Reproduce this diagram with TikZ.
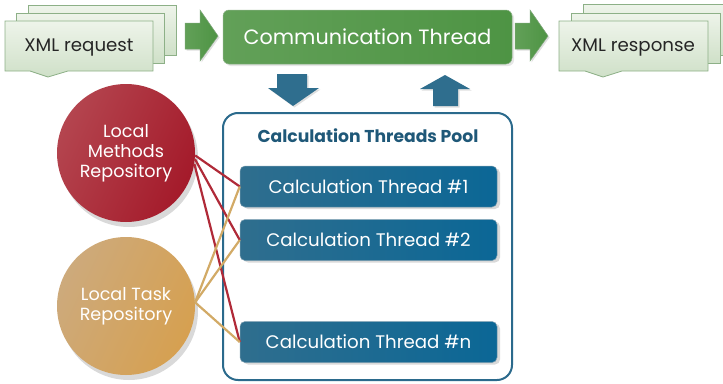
\documentclass[tikz,border=0pt]{standalone}
\usepackage{fontspec}
\setmainfont{Poppins}
\usetikzlibrary{shadows}
\definecolor{docA}{HTML}{EEF4EA}
\definecolor{docB}{HTML}{CFE0C8}
\definecolor{docE}{HTML}{8DB087}
\definecolor{grnA}{HTML}{62A058}
\definecolor{grnB}{HTML}{4E9444}
\definecolor{grnE}{HTML}{3F7E38}
\definecolor{bluA}{HTML}{2F6E8E}
\definecolor{bluB}{HTML}{0B6796}
\definecolor{bluE}{HTML}{1E5A7A}
\definecolor{poolE}{HTML}{2B6A8C}
\definecolor{poolT}{HTML}{1F5878}
\definecolor{redA}{HTML}{B4454F}
\definecolor{redB}{HTML}{A41A2A}
\definecolor{redL}{HTML}{B02A38}
\definecolor{goldA}{HTML}{CDAA7C}
\definecolor{goldB}{HTML}{D6A050}
\definecolor{goldL}{HTML}{D2AA66}
\tikzset{
  x=1pt, y=-1pt,
  doc/.style={draw=docE, line width=0.8pt, top color=docA, bottom color=docB},
  doctext/.style={font=\fontsize{18.2}{20}\selectfont, text=black!85},
  garrow/.style={draw=grnE!70, line width=0.5pt, left color=grnA, right color=grnB, drop shadow={opacity=0.25,shadow xshift=1.5pt,shadow yshift=-1.5pt}},
  barrow/.style={draw=none, fill=bluA, drop shadow={opacity=0.25,shadow xshift=1.5pt,shadow yshift=-1.5pt}},
  commbox/.style={draw=grnE!60, line width=0.5pt, rounded corners=6pt, left color=grnA, right color=grnB, minimum width=289pt, minimum height=54pt, text=white, font=\fontsize{20.7}{22}\selectfont, drop shadow={opacity=0.2,shadow xshift=2pt,shadow yshift=-2pt}},
  calcbox/.style={draw=bluE!60, line width=0.5pt, rounded corners=5pt, left color=bluA, right color=bluB, minimum width=257pt, minimum height=41pt, text=white, font=\fontsize{18.2}{20}\selectfont, drop shadow={opacity=0.3,shadow xshift=3pt,shadow yshift=-2pt}},
  repo/.style={circle, draw=none, minimum size=138pt, text=white, align=center, font=\fontsize{17.6}{20}\selectfont, inner sep=0pt, drop shadow={opacity=0.3,shadow xshift=3pt,shadow yshift=-5pt}},
  redlink/.style={draw=redL, line width=2.2pt},
  goldlink/.style={draw=goldL, line width=2.2pt},
}
\begin{document}
\begin{tikzpicture}
\useasboundingbox (0,0) rectangle (723,383);
% XML request stack
\path[doc] (28,5) rectangle (176,55);
\path[doc] (16,13) rectangle (164,63);
\path[doc] (5,21) -- (153,21) -- (153,71) -- (68,71) -- (48,77) -- (30,71) -- (5,71) -- cycle;
\node[doctext] (req) at (79,48) {XML request};
% XML response stack
\path[doc] (583,4) rectangle (730,55);
\path[doc] (571,13) rectangle (720,63);
\path[doc] (559,21) -- (708,21) -- (708,71) -- (622,71) -- (603,77) -- (585,71) -- (559,71) -- cycle;
\node[doctext] (resp) at (633,48) {XML response};
% green arrows
\path[garrow] (185,23) -- (200,23) -- (200,10) -- (218,36) -- (200,61) -- (200,49) -- (185,49) -- cycle;
\path[garrow] (515,23) -- (530,23) -- (530,10) -- (548,36) -- (530,61) -- (530,49) -- (515,49) -- cycle;
% communication thread
\node[commbox] (comm) at (367.5,37) {Communication Thread};
% blue arrows
\path[barrow] (277,74) -- (307,74) -- (307,88) -- (319,88) -- (293,106) -- (268,88) -- (277,88) -- cycle;
\path[barrow] (433,106) -- (458,106) -- (458,89) -- (470,89) -- (445,75) -- (420,89) -- (433,89) -- cycle;
% pool
\draw[draw=poolE, line width=2pt, rounded corners=15pt] (223,113) rectangle (512,380);
\node[font=\bfseries\fontsize{17.2}{19}\selectfont, text=poolT] (pooltitle) at (368,135.5) {Calculation Threads Pool};
% repositories
\node[repo, left color=redA, right color=redB, shading angle=65] (meth) at (126,153) {Local\\Methods\\Repository};
\node[repo, left color=goldA, right color=goldB, shading angle=65] (task) at (126,306) {Local Task\\Repository};
% calc threads
\node[calcbox] (t1) at (368.5,186.5) {Calculation Thread \#1};
\node[calcbox] (t2) at (368.5,240) {Calculation Thread \#2};
\node[calcbox] (tn) at (368.5,342) {Calculation Thread \#n};
% links
\draw[redlink] (meth.-2) -- (t1.west);
\draw[redlink] (meth.-5) -- (t2.west);
\draw[redlink] (meth.-9) -- (tn.west);
\draw[goldlink] (task.3) -- (t1.west);
\draw[goldlink] (task.3) -- (t2.west);
\draw[goldlink] (task.3) -- (tn.west);
\end{tikzpicture}
\end{document}
